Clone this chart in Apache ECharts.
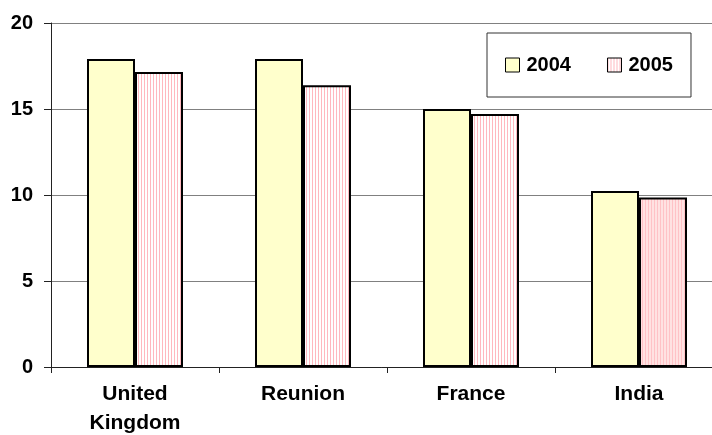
<!DOCTYPE html>
<html>
<head>
<meta charset="utf-8">
<script src="https://cdn.jsdelivr.net/npm/echarts@6/dist/echarts.min.js"></script>
<style>
html,body{margin:0;padding:0;background:#fff;}
#chart{width:712px;height:435px;}
</style>
</head>
<body>
<div id="chart"></div>
<script>
const categories = ['United\nKingdom', 'Reunion', 'France', 'India'];
const values2004 = [17.9, 17.9, 15.0, 10.23];
const values2005 = [17.15, 16.38, 14.71, 9.85];
const yTicks = [0, 5, 10, 15, 20];

function stripePattern(bg, stripe) {
  const c = document.createElement('canvas');
  c.width = 3; c.height = 4;
  const ctx = c.getContext('2d');
  ctx.fillStyle = bg; ctx.fillRect(0, 0, 3, 4);
  ctx.fillStyle = stripe; ctx.fillRect(0, 0, 1, 4);
  return { image: c, repeat: 'repeat' };
}
const pinkPattern = stripePattern('#ffffff', '#ffb8bf');
const pinkPatternDense = stripePattern('#ffe2e2', '#ffc2c6');

const font = 'Arial, "Liberation Sans", sans-serif';
const chart = echarts.init(document.getElementById('chart'), null, { renderer: 'canvas' });

chart.setOption({
  animation: false,
  backgroundColor: '#ffffff',
  grid: { left: 51, right: -11, top: 23, bottom: 68, containLabel: false, outerBoundsMode: 'none' },
  legend: {
    left: 487, top: 33,
    padding: [22, 18, 22, 18],
    borderColor: '#333', borderWidth: 1,
    itemWidth: 14, itemHeight: 14, itemGap: 36,
    icon: 'rect',
    itemStyle: { borderColor: '#000', borderWidth: 1 },
    textStyle: { fontFamily: font, fontWeight: 'bold', fontSize: 20, color: '#000', lineHeight: 20, padding: [0, 0, 0, 2] },
    data: ['2004', '2005']
  },
  xAxis: {
    type: 'category',
    data: categories,
    axisLine: { lineStyle: { color: '#222', width: 1 } },
    axisTick: { show: true, length: 6, lineStyle: { color: '#222' } },
    axisLabel: { fontFamily: font, fontWeight: 'bold', fontSize: 21, color: '#000', lineHeight: 29, margin: 13 },
    splitLine: { show: false }
  },
  yAxis: {
    type: 'value',
    min: yTicks[0], max: yTicks[yTicks.length - 1], interval: 5,
    axisLine: { show: true, lineStyle: { color: '#222', width: 1 } },
    axisTick: { show: true, length: 7, lineStyle: { color: '#222' } },
    axisLabel: { fontFamily: font, fontWeight: 'bold', fontSize: 20, color: '#000', margin: 18 },
    splitLine: { show: true, lineStyle: { color: '#808080', width: 1 } }
  },
  series: [
    {
      name: '2004', type: 'bar', data: values2004,
      barWidth: 48, barGap: '0%',
      itemStyle: { color: '#ffffcc', borderColor: '#000', borderWidth: 2 }
    },
    {
      name: '2005', type: 'bar',
      data: values2005.map((v, i) => i === 3 ? { value: v, itemStyle: { color: pinkPatternDense } } : v),
      barWidth: 48, barGap: '0%',
      itemStyle: { color: pinkPattern, borderColor: '#000', borderWidth: 2 }
    }
  ]
});
</script>
</body>
</html>
